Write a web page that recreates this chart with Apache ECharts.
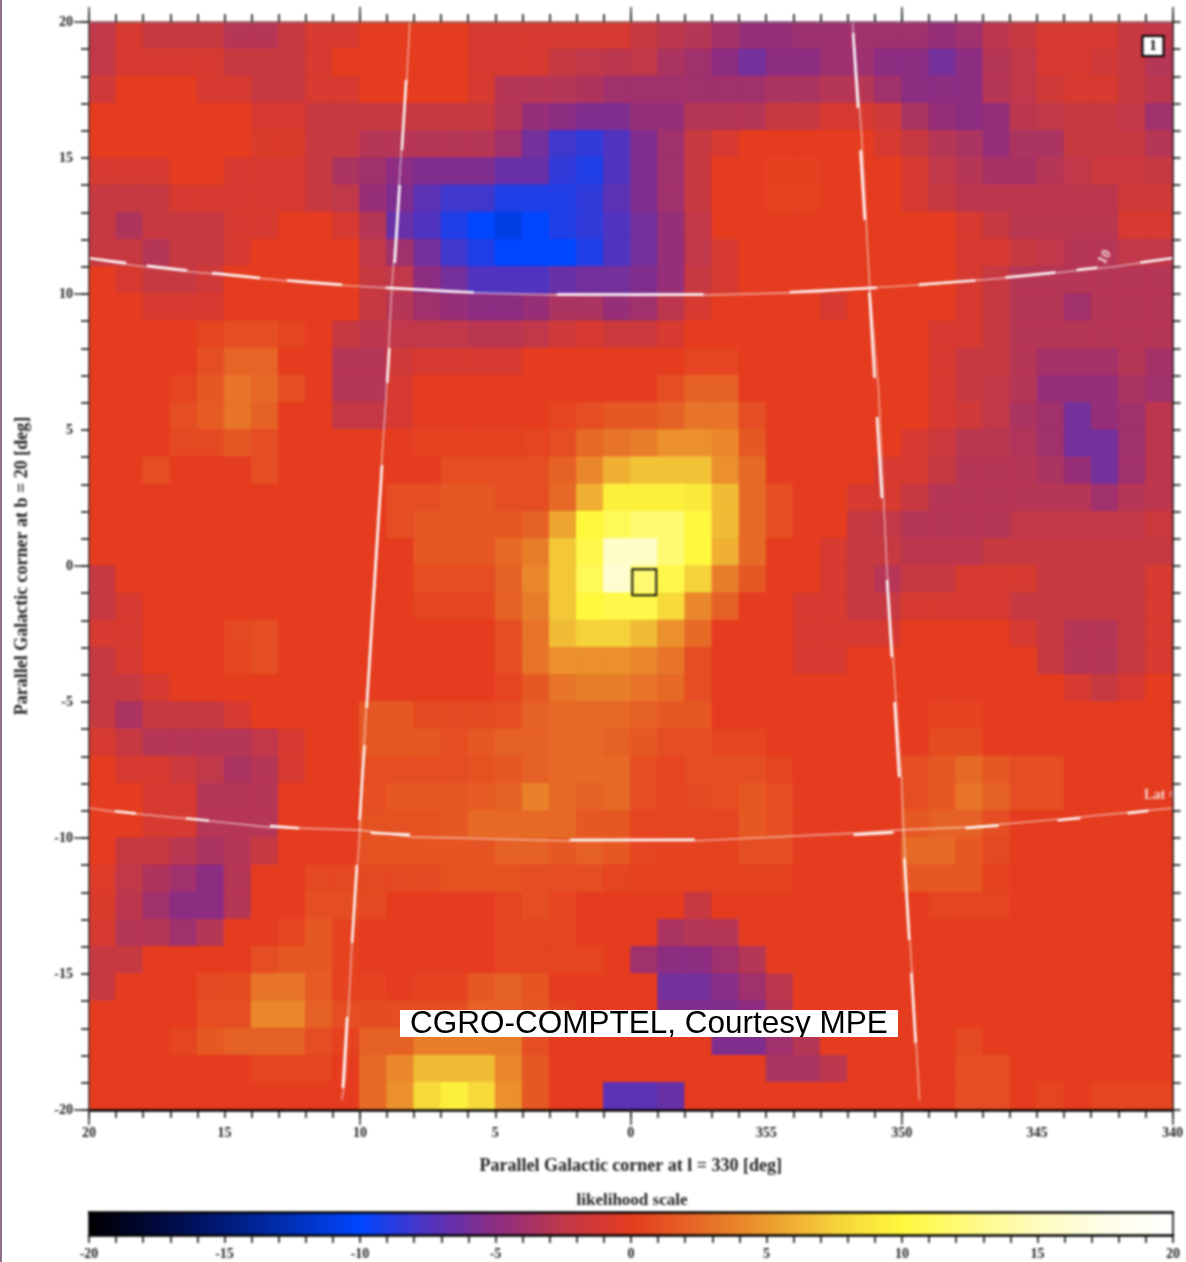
<!DOCTYPE html>
<html><head><meta charset="utf-8">
<style>
html,body{margin:0;padding:0;background:#fff;width:1186px;height:1262px;overflow:hidden}
#chart{position:absolute;left:0;top:0;width:1186px;height:1262px;filter:blur(0.8px)}
#strip{position:absolute;left:0;top:0;width:2px;height:1262px;background:#8d6f86}
#credit{position:absolute;left:400px;top:1010px;width:498px;height:27px;overflow:hidden;background:#fff}
#creditChart{width:498px;height:44px}
</style>
<script src="https://cdn.jsdelivr.net/npm/echarts@6/dist/echarts.min.js"></script>
</head><body>
<div id="chart"></div><div id="strip"></div>
<div id="credit"><div id="creditChart"></div></div>
<script>
// Pixel bins (degrees) of the map: 1-degree cells
const lonBins=[19.5,18.5,17.5,16.5,15.5,14.5,13.5,12.5,11.5,10.5,9.5,8.5,7.5,6.5,5.5,4.5,3.5,2.5,1.5,0.5,-0.5,-1.5,-2.5,-3.5,-4.5,-5.5,-6.5,-7.5,-8.5,-9.5,-10.5,-11.5,-12.5,-13.5,-14.5,-15.5,-16.5,-17.5,-18.5,-19.5];
const latBins=[19.5,18.5,17.5,16.5,15.5,14.5,13.5,12.5,11.5,10.5,9.5,8.5,7.5,6.5,5.5,4.5,3.5,2.5,1.5,0.5,-0.5,-1.5,-2.5,-3.5,-4.5,-5.5,-6.5,-7.5,-8.5,-9.5,-10.5,-11.5,-12.5,-13.5,-14.5,-15.5,-16.5,-17.5,-18.5,-19.5];
// Likelihood-scale values, one row per latitude bin, top to bottom
const mapValues=[
[-2.5,-1,-2,-2,-2,-3,-3,-2,-1,-1, 0,0,0,0,-1,-1,-1,-1,-1,-1, -2,-2.7,-3,-3.8,-4.5,-4.5,-4.2,-4.2,-4,-4, -4,-4.5,-4,-2.7,-2,-1,-1,-1,-2,-2.5],
[-2.3,-1,-1,-1,-1,-2,-2,-2,-1,0, 0,0,0,0,-1,-1,-1,-2,-2.5,-2.7, -2.5,-3.5,-4,-5,-6,-5,-5,-4.2,-4.2,-5, -5,-6,-5,-3,-2.5,-1,-1,-1.5,-2,-3],
[-1.5,0,0,0,-1,-1,-2,-2,-1,-1, 0,0,0,0,-1,-3,-3,-3,-3.3,-4, -4,-4,-4,-4,-4,-3.5,-3.5,-3,-3,-4, -5,-5,-5,-3,-2.5,-1.5,-1,-1,-2,-2.7],
[0,0,0,0,0,0,-1,-1,-2,-2, -2,-2,-2,-2,-2,-3,-4.5,-5,-5.5,-5.5, -4.5,-4.5,-3,-3,-3,-2,-2,-1,-1,-1.5, -3.5,-4.5,-5,-4.5,-2.7,-2.5,-2,-2,-2.5,-4],
[0,0,0,0,0,0,-0.7,-0.7,-2,-2, -3,-3,-3,-3,-3,-4,-6,-8,-8.5,-7.5, -5.5,-4,-2,-1,0,0,0,0,0,-1, -2,-3,-3.5,-4.5,-3.5,-3.5,-2,-2,-2,-3],
[-1,-1,-1,0,0,-1,-1,-1,-2,-3.5, -4,-5,-5.5,-5.5,-5.5,-6.5,-6.5,-8.5,-9,-7.5, -5.5,-4,-2,0,0,0.2,0.2,0,0,0, -1,-2.5,-3,-3.7,-3.7,-3,-2.5,-1.7,-1.7,-2],
[-2,-2,-2,-1,-1,-1,-1,-1,-2,-2.5, -4.5,-5.5,-7,-8,-8,-9,-9,-9,-8.5,-7, -5.5,-4,-2,0,0,0.3,0.3,0,0,0, -1,-2,-2.7,-2.7,-2.7,-2.7,-2.7,-2.7,-1.5,-1.5],
[-2,-3.3,-2,-2,-2,-1,-1,0,0,-1, -3,-6.5,-7.5,-9,-10,-11,-10,-9,-8.5,-7.5, -6,-4.5,-2.3,0,0,0,0,0,0,0, 0,0,-1,-2,-2.8,-2.8,-2.8,-2.8,-1,-1],
[-2,-2,-3,-2,-2,-1,0,0,0,0, -2.5,-4,-6,-8,-9,-10,-10,-10,-9,-7.5, -6,-4.5,-2.5,-1,0,0,0,0,0,0, 0,0,-1,-1,-2,-2.5,-3,-3,-2.5,-2.5],
[0,-1,-2,-2,-1.5,0,0,0,0,0, -2,-2.5,-5,-6,-7.5,-7.5,-7.5,-6.5,-6,-6, -5.5,-4.5,-2,-1,0,0,0,0,0,0, 0,0,-1,-2,-3,-3,-3,-3,-3,-3],
[0,0,-1,-1,-1,0,0,0,0,0, -2,-3,-4,-4.5,-5,-5,-4.5,-3.5,-3.5,-4.5, -4,-2.7,-1,0,0,0,0,-1,0,0, 0,0,-1,-2,-3,-3,-4,-3,-3,-3],
[0,0,0,0,0.5,1,1,0.5,0,-2, -2.7,-2.5,-2.5,-2.5,-2.8,-2.8,-2.5,-1.5,-1,-1.7, -1.7,-1,0,0,0,0,0,0,0,0, 0,-1,-1,-2,-3,-3,-3,-3,-3,-3],
[0,0,0,0,1,2.2,2.2,0,0,-3, -3,-1.5,-1,-1,-1,-1,0,0,0,0, 0,0,0.5,0.5,0,0,0,0,0,0, 0,-1,-2,-2,-3,-3.8,-3.8,-3.8,-3,-3.8],
[0,0,0,0.5,1.5,3,2.5,1,0,-3, -3,-1,0,0,0,0,0,0,0,0, 0,1,2,2,0,0,0,0,0,0, 0,-1,-2,-2.5,-3,-4.5,-4.5,-4.5,-3.5,-4],
[0,0,0,1,1.7,3,2,0,0,-2.2, -2.2,-1,0,0,0,0,0,0.5,1,1.5, 1.5,2,3,3,1,0,0,0,0,0, 0,-1,-1.5,-2.5,-3.5,-4,-6,-4.5,-4,-2.7],
[0,0,0,0.7,0.7,1.5,1,0,0,0, 0,0,0.3,0.3,0.3,0.3,0.5,1,2.5,3, 3.5,4.5,4.5,4,1.5,0,0,0,0,0, -1,-1.7,-2.8,-2.8,-3.2,-4,-6,-6,-4,-2.7],
[0,0,1,0,0,0,1,0,0,0, 0,0,0,1,1,1,1,2,4,6, 6.8,6.8,6.8,4.5,2.5,0,0,0,0,-1, -1,-2,-3,-3,-3,-3.5,-4.5,-6,-4,-2.7],
[0,0,0,0,0,0,0,0,0,0, 0,1,1,1.5,1.5,1,1,2.5,6,9.5, 9.5,9.5,9,6.5,2.5,1,0,0,-1,-1, -2,-3,-3,-3,-3,-3,-3,-4,-3,-2.7],
[0,0,0,0,0,0,0,0,0,0, 0,1,1.5,1.5,1.5,1.5,2,5.5,10,11, 12,12,10,6.5,2.5,1,0,0,-2,-2.3, -3,-3,-3,-3,-2.5,-2.5,-2.5,-2.5,-2.5,-1.7],
[0,0,0,0,0,0,0,0,0,0, 0,0,1.5,1.5,1.5,2.5,3.5,7,10.5,15.5, 15.5,12,10,6,2.5,0,0,-1,-2,-2, -2.7,-2.7,-2.7,-2,-2,-2,-2,-2,-2,-2],
[-2,0,0,0,0,0,0,0,0,0, 0,0,1,1,1,2,4,7,11,16, 12,10.5,7.5,3.5,1.5,0,0,-1,-2,-3, -2,-2,-1,-1,-1,-2,-2,-2,-2,-1],
[-2,-1,0,0,0,0,0,0,0,0, 0,0,0.5,0.5,0.5,2,3.5,7,10,10.5, 10.5,8,4,2,0,0,-1,-1,-2,-2, -1,-1,-1,-1,-2,-2,-2,-2,-2,-1],
[-1,-1,0,0,0,0.7,1,0,0,0, 0,0,0,0,0,1,3,6.5,7.5,7.5, 6.5,4.5,2.5,0,0,0,-1,-1,-1,-1, 0,0,0,0,-1,-2,-3,-3,-2,-1],
[-2,-1,0,0,0,0.5,1,0,0,0, 0,0,0,0,0,1,3,4.5,4.5,4.5, 4,3,1,0,0,0,-1,-1,0,0, 0,0,0,0,0,-2,-3,-3,-2,-1],
[-2,-2,-1,0,0,0,0,0,0,0, 0,0,0,0,0,0.5,1.5,3,3.5,3.5, 3,2.5,1,0,0,0,0,0,0,0, 0,0,0,0,0,0,-1,-2,-1,0],
[-2,-3.5,-2,-2,-2,-1,0,0,0,0, 1.5,1.5,0.7,0.7,0.7,1,2,2.5,2.5,2.5, 2,1.5,1.5,0,0,0,0,0,0,0, 0,0.3,0.3,0,0,0,0,0,0,0],
[-1,-2,-3,-3,-3,-3,-2.5,-1,0,0, 1.5,1.5,1.5,1,1.5,2,2,2.5,2.5,2, 1.5,1,1,0.5,0.5,0,0,0,0,0, 0,0.8,0.8,0,0,0,0,0,0,0],
[0,-1,-1,-1.7,-2.5,-3.5,-3,-1,0,0, 1,1,1,1,1.2,1.5,2,2.5,2.5,2.5, 1,0.5,1,1,1,0.5,0,0,0,0, 1,1.5,2.5,1.5,1,1,0,0,0,0],
[0,0,-1,-1,-3,-3,-3,0,0,0, 1,1.5,1.5,1.5,1.7,2,3.7,2.5,2,2.5, 1,0.5,0.7,1,1.5,1,0,0,0,0, 1,1.5,3,2,1,1,0,0,0,0],
[0,0,-1,-1,-3,-3,-3,0,0,0, 1.2,1.2,1.2,1.5,2.5,2.5,2.5,2.5,1.5,1.5, 0.5,0.5,0.5,0.5,1.5,1,0,0,0,0, 1.5,2,2,1,0,0,0,0,0,0],
[0,-2,-2,-2.8,-3.5,-3,-2,0,0,0, 1.2,1.3,1.3,1.3,1.3,2,2,1.5,2,1.5, 0.5,0.3,0.3,0.3,1,1,0,0,0,0, 2.5,2.5,1.5,0.7,0,0,0,0,0,0],
[-0.5,-2.5,-3.3,-4,-5,-3,0,0,0.7,0.7, 0.7,0.7,0.7,1.2,1.2,1.2,1,1,1,0.5, 0.3,0.3,0.3,0.3,0.3,0.3,0,0,0,0, 1.5,1.5,1.5,0.3,0,0,0,0,0,0],
[-0.7,-2.7,-4,-5,-5,-3,0,0,1,1, 0.7,0,0,0,0,0.5,1,0.5,0,0, 0,0,-2,0,0,0,0,0,0,0, 0,0.5,0.5,0.5,0,0,0,0,0,0],
[-1,-3,-3,-4,-3,0,0,0.5,1.5,0.3, 0,0,0,0,0,0.5,0.5,0.5,0,0, 0,-3.5,-3,-3,0,0,0,0,0,0, 0,0,0,0,0,0,0,0,0,0],
[-2,-2,0,0,0,0,1,1.5,1.5,0.3, 0,0,0,0,0,0.5,0.5,0.5,0.5,0, -4,-5,-5,-4,-3,0,0,0,0,0, 0,0,0,0,0,0,0,0,0,0],
[-2,0,0,0,0.7,0.8,3,3,1.7,0.3, 0.3,0,0.3,0.3,1.5,2,1.3,0,0,0, 0,-6,-6,-5.2,-4,-2.7,0,0,0,0, 0,0,0,0,0,0,0,0,0,0],
[0,0,0,0,1,1,4,4,2,1, 0.8,1,1,1,2,2,1.5,0.5,0,0, 0,-5.5,-5.5,-5.5,-5,-3,0,0,0,0, 0,0,0,0,0,0,0,0,0,0],
[0,0,0,0.5,1.5,2,2,2,1,0.3, 2,2,3.5,3.5,3.5,3.5,1,0,0,0, 0,0,0,-5.5,-5.5,-4,-3,0,0,0, 0,0,0.7,0,0,0,0,0,0,0],
[0,0,0,0,0,0,0.5,0.5,0.5,0, 2.5,4,6.5,6.5,6.5,4,1.5,0,0,0, 0,0,0,0,0,-3.5,-3.5,-2.7,0,0, 0,0,1,1,0,0,0,0,0,0],
[0,0,0,0,0,0,0,0,0,0, 2.5,4.5,8,9.5,8,4.5,1.5,0,0,-7, -7,-6.5,0,0,0,0,0,0,0,0, 0,0,1,1,0,0.5,0,0.5,0.5,0.5]
];
// Colour ramp, equally spaced from -20 to +20
const rampColors=['#000000','#00093c','#001a78','#0030b8','#0046ff','#5034c0','#8c2d82','#c0384a','#e53c1f','#e66a26','#ec9a2e','#f5d23a','#fff83c','#fffa80','#fffcc0','#fffee8','#ffffff'];
// Graticule: [lon, lat] in degrees
const meridianWest=[[8.155,20],[8.27,17.87],[8.49,14.93],[8.82,10.22],[9.04,6.1],[9.45,0],[9.93,-7.98],[10,-9.7],[10.3,-14],[10.55,-18.9],[10.66,-19.63]];
const meridianEast=[[-8.19,20],[-8.52,15.92],[-8.82,10.22],[-9.15,6.47],[-9.45,0],[-10,-7.87],[-10.07,-9.7],[-10.66,-19.63]];
const parallelNorth=[[20,11.32],[19.04,11.14],[16.94,10.88],[14.24,10.63],[11.55,10.37],[8.89,10.22],[6.75,10.07],[2.55,9.96],[-0.04,9.95],[-2.69,9.96],[-6.9,10.07],[-8.82,10.22],[-11.1,10.37],[-14.35,10.63],[-16.7,10.88],[-17.86,11],[-20,11.32]];
const parallelSouth=[[20,-8.9],[19.04,-9.04],[16.24,-9.3],[13.39,-9.6],[10,-9.71],[8.12,-9.96],[2.1,-10.11],[-2.29,-10.11],[-8.3,-9.82],[-9.85,-9.71],[-12.51,-9.6],[-15.87,-9.3],[-18.56,-9.04],[-20,-8.9]];
// Brighter stretches of those lines; null separates stretches
const brightWest=[[8.29,17.87],[8.45,15.29],null,[8.53,14.01],[8.71,11.14],null,[8.91,8.01],[8.99,6.73],null,[9.18,3.71],[9.75,-5.22],null,[9.83,-6.58],[10.01,-9.34],null,[10.11,-11],[10.29,-13.86],null,[10.47,-16.58],[10.63,-19.19]];
const brightEast=[[-8.21,19.6],[-8.39,16.84],null,[-8.48,15.29],[-8.64,12.72],null,[-8.81,10.07],[-9,6.91],null,[-9.09,5.48],[-9.27,2.5],null,[-9.46,-0.51],[-9.64,-3.35],null,[-9.74,-5],[-9.91,-7.76],null,[-10.1,-10.74],[-10.28,-13.75],null,[-10.36,-14.96],[-10.52,-17.54]];
const brightNorth=[[19.96,11.31],[18.63,11.14],null,[17.86,11.04],[16.38,10.87],null,[15.46,10.77],[13.69,10.59],null,[12.69,10.5],[10.66,10.34],null,[9.04,10.23],[5.79,10.06],null,[2.73,9.98],[-2.69,9.98],null,[-5.87,10.07],[-9.08,10.23],null,[-10.63,10.34],[-12.73,10.5],null,[-13.84,10.61],[-15.68,10.79],null,[-16.46,10.88],[-17.23,10.97],null,[-18.82,11.16],[-20,11.32]];
const brightSouth=[[19.04,-9.01],[18.27,-9.1],null,[16.42,-9.28],[15.57,-9.36],null,[13.32,-9.56],[12.25,-9.64],null,[9.59,-9.81],[8.15,-9.88],null,[2.25,-10.07],[-2.36,-10.06],null,[-8.23,-9.88],[-9.7,-9.8],null,[-12.36,-9.63],[-13.58,-9.54],null,[-15.76,-9.35],[-16.6,-9.27],null,[-18.34,-9.09],[-19.11,-9]];
const sourceMarker=[[-0.5,-0.6]];
const panelTag=[[-19.28,19.12,'1']];
const gratLabels=[[-17.5,11.35,'10',60],[-19.55,-8.45,'Lat =',0]];
const xTitle='Parallel Galactic corner at l = 330 [deg]';
const yTitle='Parallel Galactic corner at b = 20 [deg]';
const barTitle='likelihood scale';
const credit='CGRO-COMPTEL, Courtesy MPE';

const serif='"Liberation Serif","DejaVu Serif",serif';
const heatData=[];
mapValues.forEach((row,j)=>row.forEach((v,i)=>heatData.push({value:[i,j,v],itemStyle:{borderWidth:1,borderColor:echarts.color.lerp((v+20)/40,rampColors)}})));
const box={left:89,top:22,width:1084,height:1088};
const barBox={left:89,top:1212,width:1084,height:23};
const lonLabel=v=>{v=Math.round(v);return String(v<0?360+v:v)};
const axisBase={type:'value',min:-20,max:20,splitLine:{show:false},z:8};
const lblStyle={fontFamily:serif,fontSize:14,fontWeight:'bold',color:'#222',margin:16};
function tickAxis(extra){return Object.assign({},axisBase,extra)}
const line=(c,w,show)=>({show:show!==false,onZero:false,lineStyle:{color:c,width:w}});
const shortTick={show:true,length:8,lineStyle:{color:'#111',width:1.6}};
const minor={show:true,splitNumber:5,length:8,lineStyle:{color:'#111',width:1.6}};
const longTick={show:true,length:15,lineStyle:{color:'#333',width:1.6}};
function lineSeries(data,op,w,z){return {type:'line',xAxisIndex:1,yAxisIndex:1,data,symbol:'none',silent:true,connectNulls:false,z,lineStyle:{color:'#fff',width:w,opacity:op}}}
const nameStyle={fontFamily:serif,fontSize:18,fontWeight:'bold',color:'#222'};
const chart=echarts.init(document.getElementById('chart'),null,{renderer:'canvas'});
chart.setOption({
 animation:false,backgroundColor:'#fff',
 title:{text:barTitle,left:632,top:1192,textAlign:'center',padding:0,textStyle:{fontFamily:serif,fontSize:17,fontWeight:'bold',color:'#222'}},
 grid:[
  Object.assign({show:false},box),
  Object.assign({show:false,z:6},box),
  Object.assign({show:false,z:6},box),
  Object.assign({show:false,z:6},barBox)
 ],
 xAxis:[
  {type:'category',gridIndex:0,data:lonBins,show:false},
  tickAxis({gridIndex:1,inverse:true,position:'bottom',interval:5,axisLine:line('#000',2.5),axisTick:shortTick,minorTick:minor,
    axisLabel:Object.assign({},lblStyle,{formatter:lonLabel,showMinLabel:true,showMaxLabel:true}),
    name:xTitle,nameLocation:'middle',nameGap:47,nameTextStyle:nameStyle}),
  tickAxis({gridIndex:1,inverse:true,position:'top',interval:5,axisLine:line('#777',1),axisTick:shortTick,minorTick:minor,axisLabel:{show:false}}),
  tickAxis({gridIndex:2,inverse:true,position:'bottom',interval:10,axisLine:line('#000',1,false),axisTick:longTick,axisLabel:{show:false}}),
  tickAxis({gridIndex:2,inverse:true,position:'top',interval:10,axisLine:line('#000',1,false),axisTick:longTick,axisLabel:{show:false}}),
  tickAxis({gridIndex:3,position:'bottom',interval:5,axisLine:line('#000',2.5),axisTick:shortTick,minorTick:minor,
    axisLabel:Object.assign({},lblStyle,{margin:12,showMinLabel:true,showMaxLabel:true})}),
  tickAxis({gridIndex:3,position:'top',axisLine:line('#000',2.5),axisTick:{show:false},axisLabel:{show:false}})
 ],
 yAxis:[
  {type:'category',gridIndex:0,data:latBins,inverse:true,show:false},
  tickAxis({gridIndex:1,position:'left',interval:5,axisLine:line('#444',1.5),axisTick:shortTick,minorTick:minor,
    axisLabel:Object.assign({},lblStyle,{showMinLabel:true,showMaxLabel:true}),
    name:yTitle,nameLocation:'middle',nameGap:58,nameRotate:90,nameTextStyle:nameStyle}),
  tickAxis({gridIndex:1,position:'right',interval:5,axisLine:line('#333',1.5),axisTick:shortTick,minorTick:minor,axisLabel:{show:false}}),
  tickAxis({gridIndex:2,position:'left',interval:10,axisLine:line('#000',1,false),axisTick:longTick,axisLabel:{show:false}}),
  tickAxis({gridIndex:3,position:'left',min:0,max:1,interval:1,axisLine:line('#000',1.5),axisTick:{show:false},axisLabel:{show:false}}),
  tickAxis({gridIndex:3,position:'right',min:0,max:1,interval:1,axisLine:line('#000',1.5),axisTick:{show:false},axisLabel:{show:false}})
 ],
 visualMap:{type:'continuous',seriesIndex:0,min:-20,max:20,orient:'horizontal',left:barBox.left,top:barBox.top,itemWidth:barBox.height,itemHeight:barBox.width,padding:0,calculable:false,realtime:false,hoverLink:false,z:1,inRange:{color:rampColors}},
 series:[
  {type:'heatmap',xAxisIndex:0,yAxisIndex:0,data:heatData,silent:true,progressive:0,emphasis:{disabled:true}},
  lineSeries(meridianWest,0.5,1.6,5),lineSeries(meridianEast,0.5,1.6,5),lineSeries(parallelNorth,0.5,1.6,5),lineSeries(parallelSouth,0.5,1.6,5),
  lineSeries(brightWest,1,2.4,6),lineSeries(brightEast,1,2.4,6),lineSeries(brightNorth,1,2.4,6),lineSeries(brightSouth,1,2.4,6),
  {type:'scatter',xAxisIndex:1,yAxisIndex:1,data:sourceMarker,symbol:'rect',symbolSize:[24,26],silent:true,z:7,itemStyle:{color:'rgba(0,0,0,0)',borderColor:'#111',borderWidth:2,opacity:1}},
  {type:'scatter',xAxisIndex:1,yAxisIndex:1,data:panelTag,symbol:'rect',symbolSize:[21,20],silent:true,z:7,itemStyle:{color:'#fff',borderColor:'#000',borderWidth:2,opacity:1},
    label:{show:true,position:'inside',formatter:p=>p.value[2],fontFamily:serif,fontSize:15,fontWeight:'bold',color:'#111'}},
  {type:'scatter',xAxisIndex:1,yAxisIndex:1,silent:true,z:7,symbolSize:0,
    data:gratLabels.map(d=>({value:d,label:{rotate:d[3]}})),
    label:{show:true,position:'inside',formatter:p=>p.value[2],fontFamily:serif,fontSize:14,fontWeight:'bold',color:'#fff'}}
 ]
});
const cc=echarts.init(document.getElementById('creditChart'));
cc.setOption({animation:false,graphic:[{type:'text',left:10,top:-2,style:{text:credit,font:'31.5px "Liberation Sans",Arial,sans-serif',fill:'#000'}}]});
</script>
</body></html>
